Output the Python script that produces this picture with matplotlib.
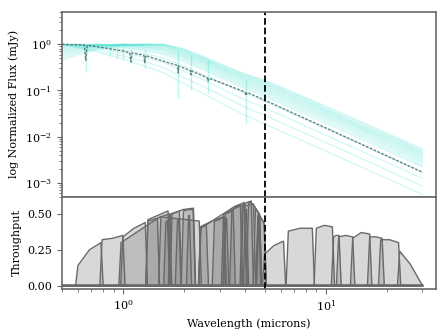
import numpy as np
import matplotlib
matplotlib.use("Agg")
import matplotlib.pyplot as plt

plt.rcParams["font.family"] = "DejaVu Serif"
plt.rcParams["font.size"] = 8

# ---- spectra ----
lam_grid = [0.5, 0.6, 0.75, 1.0, 1.3, 1.6, 2.0, 2.5, 3.2, 4.0, 5.0, 7.0, 10.0, 15.0, 20.0, 30.0]

cyan_flux = [
    [0.45, 0.60, 0.78, 0.93, 0.99, 1.00, 0.80, 0.55, 0.34, 0.23, 0.167, 0.090, 0.046, 0.021, 0.0120, 0.0054],
    [0.50, 0.65, 0.82, 0.95, 1.00, 0.99, 0.77, 0.52, 0.325, 0.22, 0.158, 0.085, 0.043, 0.0195, 0.0112, 0.0050],
    [0.55, 0.70, 0.86, 0.97, 1.00, 0.98, 0.74, 0.50, 0.31, 0.21, 0.150, 0.080, 0.040, 0.018, 0.0105, 0.0047],
    [0.60, 0.75, 0.89, 0.99, 1.00, 0.96, 0.71, 0.48, 0.295, 0.20, 0.142, 0.075, 0.038, 0.017, 0.0099, 0.0044],
    [0.65, 0.79, 0.92, 1.00, 0.99, 0.93, 0.68, 0.46, 0.28, 0.19, 0.135, 0.071, 0.036, 0.016, 0.0093, 0.0042],
    [0.70, 0.83, 0.94, 1.00, 0.97, 0.90, 0.65, 0.44, 0.27, 0.18, 0.127, 0.067, 0.034, 0.0152, 0.0088, 0.0039],
    [0.75, 0.86, 0.96, 1.00, 0.95, 0.86, 0.62, 0.42, 0.26, 0.17, 0.120, 0.063, 0.032, 0.0145, 0.0083, 0.0037],
    [0.80, 0.90, 0.98, 0.99, 0.92, 0.82, 0.59, 0.40, 0.245, 0.16, 0.112, 0.059, 0.030, 0.0136, 0.0077, 0.0034],
    [0.85, 0.93, 0.99, 0.97, 0.89, 0.78, 0.56, 0.38, 0.23, 0.15, 0.105, 0.055, 0.028, 0.0127, 0.0072, 0.0032],
    [0.89, 0.96, 1.00, 0.95, 0.86, 0.74, 0.53, 0.355, 0.215, 0.14, 0.097, 0.051, 0.026, 0.0117, 0.0066, 0.0029],
    [0.93, 0.98, 1.00, 0.93, 0.82, 0.70, 0.50, 0.33, 0.20, 0.13, 0.090, 0.047, 0.024, 0.0108, 0.0061, 0.0027],
    [0.97, 0.99, 0.98, 0.89, 0.77, 0.65, 0.46, 0.305, 0.185, 0.12, 0.082, 0.043, 0.0217, 0.0098, 0.0055, 0.0024],
    [1.00, 1.00, 0.96, 0.85, 0.72, 0.60, 0.42, 0.28, 0.17, 0.110, 0.075, 0.039, 0.0195, 0.0088, 0.0050, 0.0022],
    [1.00, 0.97, 0.90, 0.76, 0.62, 0.50, 0.34, 0.22, 0.135, 0.087, 0.058, 0.030, 0.0150, 0.0068, 0.0038, 0.0017],
    [1.00, 0.93, 0.82, 0.66, 0.51, 0.40, 0.26, 0.17, 0.100, 0.063, 0.042, 0.022, 0.0108, 0.0049, 0.0028, 0.00125],
    [1.00, 0.88, 0.74, 0.56, 0.41, 0.31, 0.19, 0.12, 0.071, 0.044, 0.029, 0.015, 0.0075, 0.0034, 0.0019, 0.00085],
    [1.00, 0.85, 0.68, 0.48, 0.33, 0.24, 0.14, 0.085, 0.048, 0.029, 0.019, 0.0098, 0.0049, 0.0022, 0.00125, 0.00056],
]

# absorption streaks on the cyan spectra: wavelength, top, bottom
cyan_dip_lam = [0.656, 0.86, 0.94, 1.005, 1.094, 1.282, 1.875, 2.166, 2.63, 4.05]
cyan_dip_top = [0.95, 0.9, 0.9, 0.9, 0.85, 0.8, 0.75, 0.6, 0.45, 0.17]
cyan_dip_bot = [0.25, 0.55, 0.5, 0.45, 0.38, 0.30, 0.07, 0.10, 0.09, 0.02]

# highlighted spectrum (with its lines)
dark_lam = [0.5, 0.6, 0.645, 0.656, 0.667, 0.77, 1.0, 1.08, 1.094, 1.11, 1.25, 1.27, 1.282, 1.295,
            1.85, 1.865, 1.875, 1.885, 2.15, 2.166, 2.18, 2.6, 2.63, 2.66, 3.14, 4.0, 4.05, 4.1,
            5.0, 10.0, 30.0]
dark_flux = [1.0, 0.98, 0.96, 0.45, 0.95, 0.87, 0.72, 0.66, 0.42, 0.65, 0.59, 0.58, 0.40, 0.57,
             0.35, 0.345, 0.24, 0.34, 0.27, 0.22, 0.265, 0.19, 0.16, 0.185, 0.14, 0.093, 0.078, 0.091,
             0.062, 0.0155, 0.0017]

# ---- filter throughputs: lo, hi, throughput at lo / middle / hi ----
filt_lo = [0.60, 0.79, 1.00, 1.33, 1.75, 0.98, 1.33, 1.54, 1.72, 1.99, 1.86, 1.63, 2.11,
           2.42, 2.43, 3.14, 3.88, 2.42, 2.83, 3.20, 3.45, 3.92, 4.17, 4.51, 4.66,
           3.22, 4.03, 4.63, 4.68,
           5.00, 6.55, 9.00, 10.95, 11.60, 13.6, 16.5, 18.7, 23.2]
filt_hi = [0.78, 1.00, 1.29, 1.67, 2.23, 2.38, 1.48, 1.70, 1.90, 2.22, 1.89, 1.66, 2.13,
           3.13, 4.00, 3.98, 4.98, 2.58, 3.16, 3.50, 3.80, 4.30, 4.41, 4.72, 4.97,
           3.25, 4.07, 4.68, 4.73,
           6.20, 8.60, 10.8, 11.65, 13.6, 16.5, 19.0, 22.9, 29.5]
filt_tlo = [0.14, 0.32, 0.34, 0.46, 0.50, 0.30, 0.45, 0.48, 0.50, 0.52, 0.45, 0.44, 0.48,
            0.41, 0.40, 0.50, 0.55, 0.41, 0.45, 0.50, 0.53, 0.56, 0.58, 0.54, 0.50,
            0.46, 0.52, 0.48, 0.47,
            0.22, 0.38, 0.40, 0.34, 0.34, 0.33, 0.34, 0.32, 0.24]
filt_tmid = [0.25, 0.33, 0.40, 0.49, 0.53, 0.48, 0.46, 0.49, 0.51, 0.53, 0.46, 0.45, 0.49,
             0.45, 0.50, 0.55, 0.57, 0.42, 0.46, 0.51, 0.55, 0.58, 0.58, 0.52, 0.47,
             0.47, 0.53, 0.49, 0.48,
             0.28, 0.40, 0.42, 0.35, 0.35, 0.37, 0.34, 0.32, 0.15]
filt_thi = [0.30, 0.35, 0.44, 0.52, 0.54, 0.45, 0.47, 0.50, 0.52, 0.53, 0.46, 0.45, 0.49,
            0.48, 0.57, 0.58, 0.43, 0.43, 0.48, 0.53, 0.56, 0.59, 0.56, 0.50, 0.44,
            0.47, 0.53, 0.49, 0.48,
            0.31, 0.40, 0.41, 0.35, 0.34, 0.36, 0.33, 0.30, 0.02]

wl_min, wl_max = 0.5, 30.0
cut_wave = 5.0

CYAN = "turquoise"
EDGE = "dimgray"

fig = plt.figure(figsize=(4.48, 3.36), dpi=100)
gs = fig.add_gridspec(2, 1, height_ratios=[2, 1], hspace=0,
                      left=0.138, right=0.973, top=0.964, bottom=0.140)
ax1 = fig.add_subplot(gs[0])
ax2 = fig.add_subplot(gs[1], sharex=ax1)

for f in cyan_flux:
    ax1.plot(lam_grid, f, color=CYAN, alpha=0.22, lw=1.0)
ax1.vlines(cyan_dip_lam, cyan_dip_bot, cyan_dip_top, color=CYAN, alpha=0.35, lw=1.0)
ax1.plot(dark_lam, dark_flux, color="#2f5f5f", lw=1.0, alpha=0.75,
         linestyle=(0, (2, 1)))

ax1.set_xscale("log")
ax1.set_yscale("log")
ax1.set_ylim(5e-4, 5)
ax1.set_xlim(0.5, 35)
ax1.set_ylabel("log Normalized Flux (mJy)")
ax1.tick_params(labelbottom=False)

e = 0.025
for lo, hi, a, m, b in zip(filt_lo, filt_hi, filt_tlo, filt_tmid, filt_thi):
    mid = np.sqrt(lo * hi)
    x = [wl_min, lo * (1 - e), lo, mid, hi, hi * (1 + e), wl_max]
    y = [0, 0, a, m, b, 0, 0]
    ax2.fill_between(x, y, color="gray", alpha=0.3, lw=0)
    ax2.plot(x, y, color=EDGE, lw=1.0)

ax2.set_ylim(-0.023, 0.62)
ax2.set_yticks([0.0, 0.25, 0.5])
ax2.set_ylabel("Throughput")
ax2.set_xlabel("Wavelength (microns)")

for ax in (ax1, ax2):
    ax.axvline(cut_wave, color="k", ls="--", lw=1.3)
    for s in ax.spines.values():
        s.set_color("dimgray")
        s.set_linewidth(1.2)
    ax.tick_params(which="both", color="dimgray")

fig.savefig("out.png", dpi=100)
